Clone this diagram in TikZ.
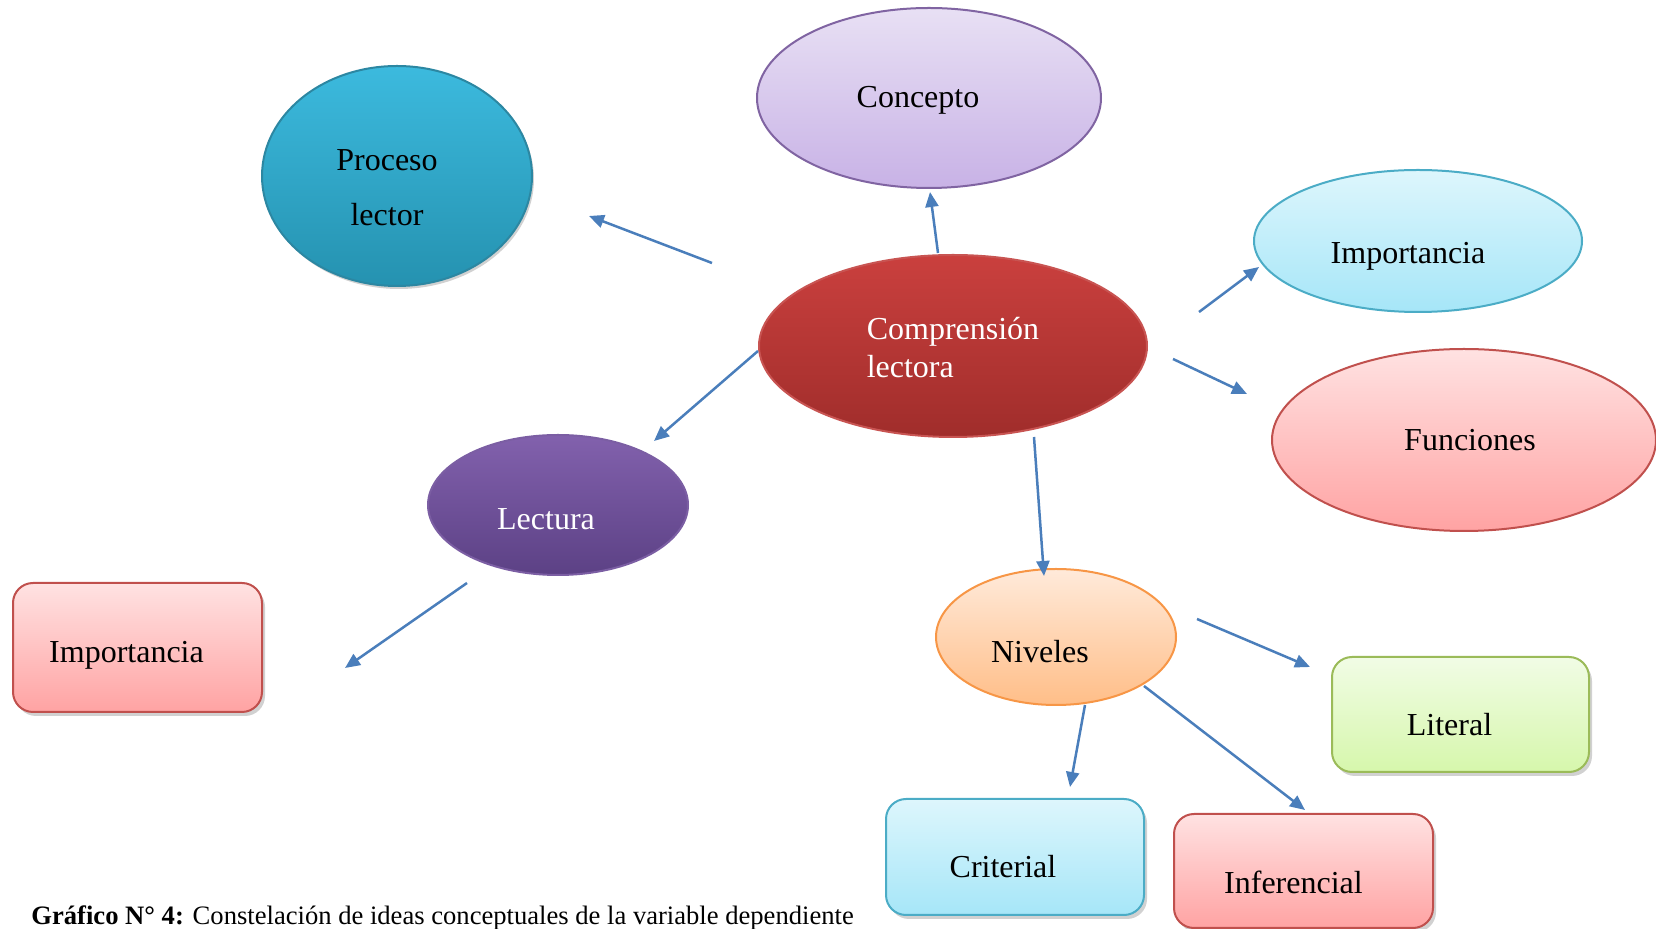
\documentclass[tikz,border=0pt]{standalone}
\usepackage{fontspec}
\setmainfont{Liberation Serif}
\usetikzlibrary{shapes.geometric,shadows,arrows.meta}
\definecolor{arrblue}{HTML}{4A7EBB}
\definecolor{procT}{HTML}{3CBADE}
\definecolor{procB}{HTML}{2592B0}
\definecolor{procD}{HTML}{2C87A2}
\definecolor{lavT}{HTML}{E8E0F4}
\definecolor{lavB}{HTML}{C8B2E6}
\definecolor{lavD}{HTML}{8064A2}
\definecolor{cyaT}{HTML}{DDF6FC}
\definecolor{cyaB}{HTML}{A6E6F8}
\definecolor{cyaD}{HTML}{4BACC6}
\definecolor{pinT}{HTML}{FFE2E2}
\definecolor{pinB}{HTML}{FFA3A3}
\definecolor{pinD}{HTML}{C0504D}
\definecolor{redT}{HTML}{CA403E}
\definecolor{redB}{HTML}{A02D2B}
\definecolor{redD}{HTML}{C85452}
\definecolor{purT}{HTML}{8261AD}
\definecolor{purB}{HTML}{5C4185}
\definecolor{purD}{HTML}{7B5EA3}
\definecolor{orgT}{HTML}{FFEADA}
\definecolor{orgB}{HTML}{FFBE88}
\definecolor{orgD}{HTML}{F79646}
\definecolor{grnT}{HTML}{F1FCE5}
\definecolor{grnB}{HTML}{D6F7AC}
\definecolor{grnD}{HTML}{9BBB59}
\begin{document}
\begin{tikzpicture}[x=0.5pt,y=-0.5pt,
  txt/.style={font=\fontsize{16}{19}\selectfont, align=center, inner sep=0pt},
  el/.style={ellipse, inner sep=0pt, line width=1pt},
  bx/.style={rectangle, rounded corners=10pt, inner sep=0pt, line width=1pt,
    drop shadow={shadow xshift=1.5pt, shadow yshift=-2pt, opacity=0.3, fill=black!60}},
  arr/.style={draw=arrblue, line width=1.25pt, -{Triangle[length=7.5pt,width=6.5pt]}}]
\useasboundingbox (0,0) rectangle (1656,929);
\clip (0,0) rectangle (1656,929);

% ellipses
\node[el, minimum width=135pt, minimum height=110pt, top color=procT, bottom color=procB, draw=procD,
  drop shadow={shadow xshift=1pt, shadow yshift=-1.5pt, opacity=0.3, fill=black!60},
  label={[txt, shift={(-5pt,-6pt)}]center:Proceso\\[8.5pt]lector}] (proc) at (397,176) {};
\node[el, minimum width=172pt, minimum height=90pt, top color=lavT, bottom color=lavB, draw=lavD,
  label={[txt, shift={(-5.5pt,-1pt)}]center:Concepto}] (conc) at (929,98) {};
\node[el, minimum width=164pt, minimum height=71pt, top color=cyaT, bottom color=cyaB, draw=cyaD,
  label={[txt, shift={(-5pt,-7.5pt)}]center:Importancia}] (impt) at (1418,241) {};
\node[el, minimum width=192pt, minimum height=91pt, top color=pinT, bottom color=pinB, draw=pinD,
  label={[txt, shift={(3pt,0pt)}]center:Funciones}] (func) at (1464,440) {};
\node[el, minimum width=194pt, minimum height=91pt, top color=redT, bottom color=redB, draw=redD,
  label={[txt, align=left, text=white, shift={(0pt,-1pt)}]center:Comprensión\\lectora}] (comp) at (953,346) {};
\node[el, minimum width=130pt, minimum height=70pt, top color=purT, bottom color=purB, draw=purD,
  label={[txt, text=white, shift={(-6pt,-7pt)}]center:Lectura}] (lect) at (558,505) {};
\node[el, minimum width=120pt, minimum height=68pt, top color=orgT, bottom color=orgB, draw=orgD,
  label={[txt, shift={(-8pt,-7.5pt)}]center:Niveles}] (nive) at (1056,637) {};

% boxes
\node[bx, minimum width=124.5pt, minimum height=64.5pt, top color=pinT, bottom color=pinB, draw=pinD,
  label={[txt, shift={(-5.5pt,-4pt)}]center:Importancia}] (impl) at (137.5,647.5) {};
\node[bx, minimum width=128.5pt, minimum height=57.5pt, top color=grnT, bottom color=grnB, draw=grnD,
  label={[txt, shift={(-5.5pt,-5pt)}]center:Literal}] (lite) at (1460.5,714.5) {};
\node[bx, minimum width=129pt, minimum height=58pt, top color=cyaT, bottom color=cyaB, draw=cyaD,
  label={[txt, shift={(-6pt,-5pt)}]center:Criterial}] (crit) at (1015,857) {};
\node[bx, minimum width=129.5pt, minimum height=57pt, top color=pinT, bottom color=pinB, draw=pinD,
  label={[txt, shift={(-5pt,-5.5pt)}]center:Inferencial}] (infe) at (1303.5,871) {};

% arrow end points
\coordinate (a1s) at (712,263);  \coordinate (a1e) at (589,216);
\coordinate (a2s) at (938,253);  \coordinate (a2e) at (930,192);
\coordinate (a3s) at (1199,312); \coordinate (a3e) at (1259,267);
\coordinate (a4s) at (1173,359); \coordinate (a4e) at (1247,394);
\coordinate (a5s) at (758,351);  \coordinate (a5e) at (654,441);
\coordinate (a6s) at (1034,437); \coordinate (a6e) at (1044,576);
\coordinate (a7s) at (467,583);  \coordinate (a7e) at (345,668);
\coordinate (a8s) at (1197,619); \coordinate (a8e) at (1310,667);
\coordinate (a9s) at (1144,686); \coordinate (a9e) at (1305,810);
\coordinate (a10s) at (1085,705); \coordinate (a10e) at (1070,787);
\foreach \i in {1,...,10} {\draw[arr] (a\i s) -- (a\i e);}

% caption
\node[anchor=base west, inner sep=0pt, font=\fontsize{13.3}{16}\selectfont] (capt) at (31,925)
  {\textbf{Gráfico N° 4:} Constelación de ideas conceptuales de la variable dependiente};
\end{tikzpicture}
\end{document}
